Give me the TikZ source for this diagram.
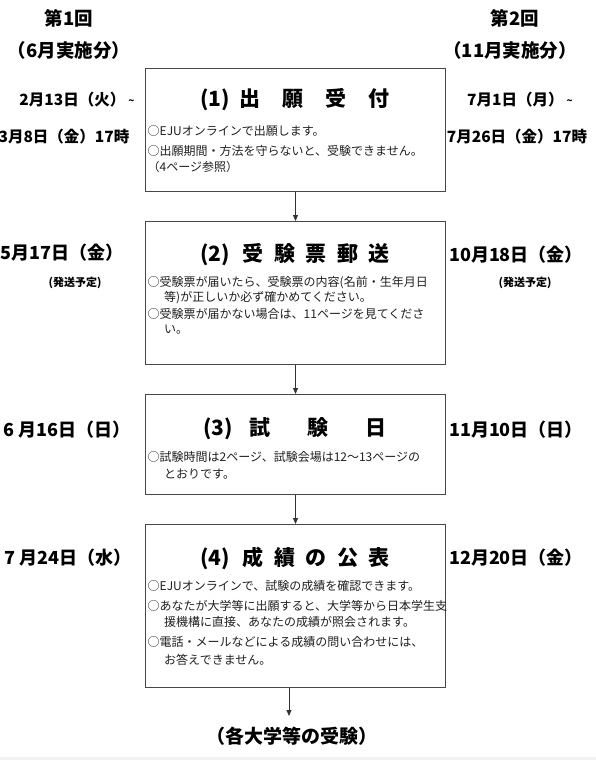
\documentclass[tikz,border=0pt]{standalone}
\usepackage{fontspec}
\setmainfont{Noto Sans CJK JP}
\usetikzlibrary{arrows.meta}
\tikzset{
  box/.style={draw=black!72, line width=1pt, anchor=north west, inner sep=0pt, minimum width=300pt},
  arr/.style={draw=black!80, line width=0.8pt, -{Triangle[length=6pt,width=5pt]}},
  ttl/.style={font=\fontsize{21}{24}\selectfont\bfseries, anchor=center, inner sep=0pt},
  txt/.style={font=\fontsize{12}{15}\selectfont, anchor=west, inner sep=0pt, text=black!88},
  head/.style={font=\fontsize{18.5}{20}\selectfont\bfseries, inner sep=0pt},
  datesm/.style={font=\fontsize{15.5}{18}\selectfont\bfseries, inner sep=0pt},
  datebg/.style={font=\fontsize{18}{20}\selectfont\bfseries, inner sep=0pt},
  note/.style={font=\fontsize{11}{13}\selectfont\bfseries, inner sep=0pt},
  fin/.style={font=\fontsize{19}{22}\selectfont\bfseries, inner sep=0pt}
}
\newcommand{\tld}{\hspace{0.2em}{\fontsize{10}{10}\selectfont\raisebox{1pt}{\textasciitilde}}}
\begin{document}
\begin{tikzpicture}[x=1pt,y=-1pt]
\useasboundingbox (0,0) rectangle (596,760);
\fill[black!5] (0,757) rectangle (596,760);

% headers
\node[head] (h1a) at (69,18) {第1回};
\node[head] (h1b) at (69,50) {（6月実施分）};
\node[head] (h2a) at (515,18) {第2回};
\node[head] (h2b) at (510,50) {（11月実施分）};

% boxes
\node[box, minimum height=123pt] (b1) at (145,68) {};
\node[box, minimum height=143pt] (b2) at (145,221) {};
\node[box, minimum height=100pt] (b3) at (145,394) {};
\node[box, minimum height=163pt] (b4) at (145,524) {};

% arrows
\draw[arr] (b1.south) -- (b2.north);
\draw[arr] (b2.south) -- (b3.north);
\draw[arr] (b3.south) -- (b4.north);
\coordinate (e) at (289,716);
\node[fin] (final) at (292,736) {（各大学等の受験）};
\draw[arr] (b4.south -| e) -- (e);

% box 1
\node[ttl] (t1) at (295,100) {(1)\hspace{0.45em}出\hspace{1.05em}願\hspace{1.05em}受\hspace{1.05em}付};
\node[txt] (l11) at (147.5,131) {○EJUオンラインで出願します。};
\node[txt] (l12) at (147.5,151) {○出願期間・方法を守らないと、受験できません。};
\node[txt] (l13) at (147.5,167) {（4ページ参照）};

% box 2
\node[ttl] (t2) at (295,255) {(2)\hspace{0.6em}受\hspace{0.5em}験\hspace{0.5em}票\hspace{0.5em}郵\hspace{0.5em}送};
\node[txt] (l21) at (147.5,283) {○受験票が届いたら、受験票の内容(名前・生年月日};
\node[txt] (l22) at (164,298) {等)が正しいか必ず確かめてください。};
\node[txt] (l23) at (147.5,314) {○受験票が届かない場合は、11ページを見てくださ};
\node[txt] (l24) at (164,330) {い。};

% box 3
\node[ttl] (t3) at (295,429) {(3)\hspace{0.8em}試\hspace{1.75em}験\hspace{1.75em}日};
\node[txt] (l31) at (147.5,457) {○試験時間は2ページ、試験会場は12～13ページの};
\node[txt] (l32) at (164,474) {とおりです。};

% box 4
\node[ttl] (t4) at (295,558) {(4)\hspace{0.6em}成\hspace{0.5em}績\hspace{0.5em}の\hspace{0.5em}公\hspace{0.5em}表};
\node[txt] (l41) at (147.5,586) {○EJUオンラインで、試験の成績を確認できます。};
\node[txt] (l42) at (147.5,606) {○あなたが大学等に出願すると、大学等から日本学生支};
\node[txt] (l43) at (164,622) {援機構に直接、あなたの成績が照会されます。};
\node[txt] (l44) at (147.5,642) {○電話・メールなどによる成績の問い合わせには、};
\node[txt] (l45) at (164,660) {お答えできません。};

% left dates
\node[datesm] (d11) at (77,100) {2月13日（火）\tld};
\node[datesm] (d12) at (64,137) {3月8日（金）17時};
\node[datebg] (d21) at (62,253) {5月17日（金）};
\node[note] (n21) at (75,283) {(発送予定)};
\node[datebg] (d31) at (67,430) {6 月16日（日）};
\node[datebg] (d41) at (68,558) {7 月24日（水）};

% right dates
\node[datesm] (r11) at (520,100) {7月1日（月）\tld};
\node[datesm] (r12) at (517,137) {7月26日（金）17時};
\node[datebg] (r21) at (516,255) {10月18日（金）};
\node[note] (rn21) at (525,283) {(発送予定)};
\node[datebg] (r31) at (516,430) {11月10日（日）};
\node[datebg] (r41) at (516,558) {12月20日（金）};
\end{tikzpicture}
\end{document}
